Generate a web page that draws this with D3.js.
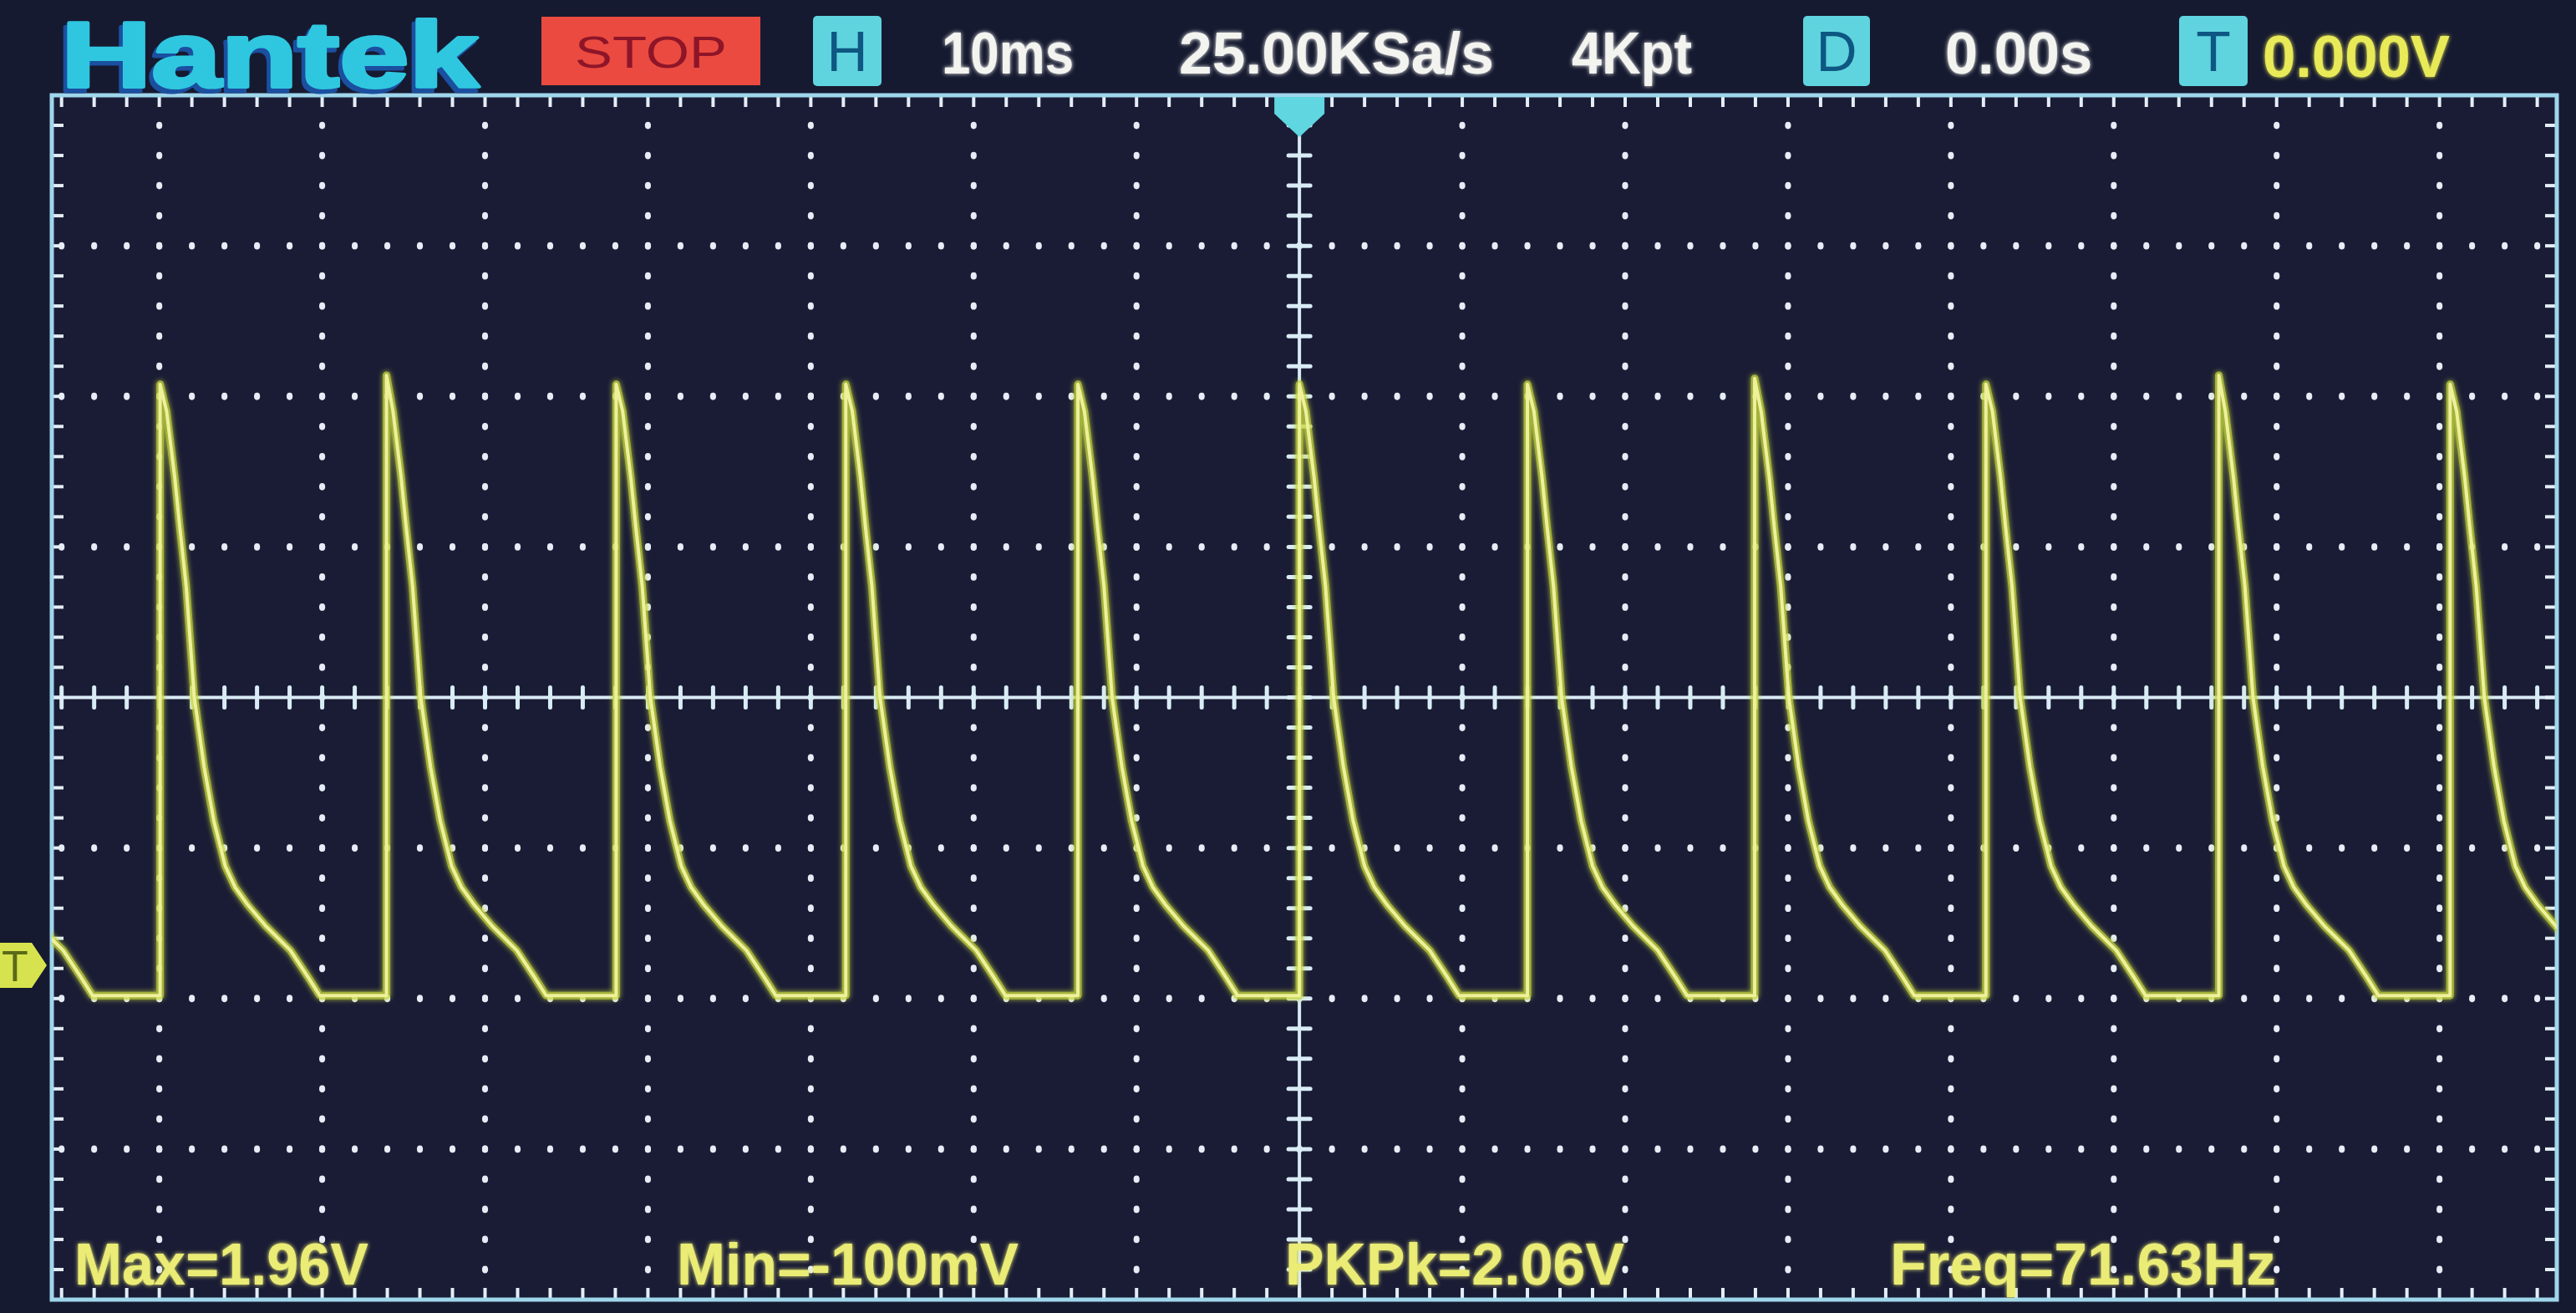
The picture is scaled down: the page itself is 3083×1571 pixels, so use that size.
<!DOCTYPE html>
<html>
<head>
<meta charset="utf-8">
<script src="https://cdn.jsdelivr.net/npm/d3@7"></script>
<style>
  html, body { margin: 0; padding: 0; background: #12152a; overflow: hidden; }
</style>
</head>
<body>
<div id="scope"></div>
<script>
// ---- readouts (text only) ----
var brand = "Hantek";
var runState = "STOP";
var headerLabels = ["10ms", "25.00KSa/s", "4Kpt", "0.00s"];
var triggerLevel = "0.000V";
var boxLetters = ["H", "D", "T"];
var measureLabels = ["Max=1.96V", "Min=-100mV", "PKPk=2.06V", "Freq=71.63Hz"];

// ---- trace values ----
// rising edge times (ms, relative to trigger) and the peak reached on each pulse
var edgeTimes = [-83.9, -69.95, -56.05, -41.95, -27.85, -13.6, 0, 14.0, 27.95, 42.15, 56.45, 70.65];
var peakVolts = [1.93, 1.93, 1.96, 1.93, 1.93, 1.93, 1.93, 1.93, 1.95, 1.93, 1.96, 1.93];
// decay after each edge: time since edge (ms) and volts
var decayTimes = [0.4, 0.9, 1.2, 1.6, 2.1, 2.7, 3.3, 4.0, 4.6, 5.4, 6.5, 8.0, 9.1, 9.8];
var decayVolts = [1.84, 1.62, 1.46, 1.26, 0.89, 0.66, 0.48, 0.33, 0.26, 0.20, 0.13, 0.05, -0.04, -0.10];
var baseVolts = -0.10;

var W = 3083, H = 1571;
var plot = {left: 62, right: 3060, top: 114, bottom: 1555};

var svg = d3.select("#scope").append("svg")
    .attr("width", W)
    .attr("height", H)
    .style("display", "block");

var defs = svg.append("defs");

function glow(id, dev) {
  var f = defs.append("filter").attr("id", id)
      .attr("x", "-20%").attr("y", "-20%").attr("width", "140%").attr("height", "140%");
  f.append("feGaussianBlur").attr("in", "SourceGraphic").attr("stdDeviation", dev).attr("result", "b");
  var m = f.append("feMerge");
  m.append("feMergeNode").attr("in", "b");
  m.append("feMergeNode").attr("in", "SourceGraphic");
}
glow("glowTrace", 3);
glow("glowText", 2.5);

defs.append("clipPath").attr("id", "plotClip")
  .append("rect")
    .attr("x", plot.left)
    .attr("y", plot.top)
    .attr("width", plot.right - plot.left)
    .attr("height", plot.bottom - plot.top);

// screen background
svg.append("rect")
    .attr("width", W).attr("height", H)
    .attr("fill", "#161a30");

svg.append("rect")
    .attr("x", plot.left).attr("y", plot.top)
    .attr("width", plot.right - plot.left)
    .attr("height", plot.bottom - plot.top)
    .attr("fill", "#1a1c35");

// time in ms across, volts up (500mV/div, 0V sits ~1.78 div under centre)
var x = d3.scaleLinear()
    .domain([-76.6, 77.2])
    .range([plot.left, plot.right]);

var y = d3.scaleLinear()
    .domain([-1.11, 2.89])
    .range([plot.bottom, plot.top]);

// vertical divisions, for the graticule
var div = d3.scaleLinear()
    .domain([-4, 4])
    .range([plot.bottom, plot.top]);

var majorT = x.ticks(15).filter(function(t) { return t !== 0; });
var minorT = d3.range(-76, 77.3, 2);
var majorD = [-3, -2, -1, 1, 2, 3];
var minorD = d3.range(-19, 20).map(function(k) { return k / 5; });

var grid = svg.append("g").attr("class", "graticule");
var gridColor = "#e6edf6";

// dotted verticals
majorT.forEach(function(t) {
  grid.selectAll(null)
    .data(minorD)
    .enter()
    .append("ellipse")
      .attr("cx", x(t))
      .attr("cy", function(d) { return div(d); })
      .attr("rx", 3.6).attr("ry", 4.4)
      .attr("fill", gridColor);
});

// dotted horizontals
majorD.forEach(function(d) {
  grid.selectAll(null)
    .data(minorT)
    .enter()
    .append("ellipse")
      .attr("cx", function(t) { return x(t); })
      .attr("cy", div(d))
      .attr("rx", 3.6).attr("ry", 4.4)
      .attr("fill", gridColor);
});

// centre cross with small bars
var axisColor = "#d9ecf6";
grid.append("line")
    .attr("x1", x(0)).attr("x2", x(0))
    .attr("y1", plot.top).attr("y2", plot.bottom)
    .attr("stroke", axisColor).attr("stroke-width", 4);
grid.append("line")
    .attr("x1", plot.left).attr("x2", plot.right)
    .attr("y1", div(0)).attr("y2", div(0))
    .attr("stroke", axisColor).attr("stroke-width", 4);

grid.selectAll(null)
  .data(minorD)
  .enter()
  .append("line")
    .attr("x1", x(0) - 13).attr("x2", x(0) + 13)
    .attr("y1", function(d) { return div(d); })
    .attr("y2", function(d) { return div(d); })
    .attr("stroke", axisColor).attr("stroke-width", 5)
    .attr("stroke-linecap", "round");

grid.selectAll(null)
  .data(minorT)
  .enter()
  .append("line")
    .attr("x1", function(t) { return x(t); })
    .attr("x2", function(t) { return x(t); })
    .attr("y1", div(0) - 12).attr("y2", div(0) + 12)
    .attr("stroke", axisColor).attr("stroke-width", 5)
    .attr("stroke-linecap", "round");

// border ticks
var tickLen = 14;
var borderColor = "#9fd6ec";
var tickColor = "#e3eef7";
grid.selectAll(null)
  .data(minorT)
  .enter()
  .append("line")
    .attr("x1", function(t) { return x(t); })
    .attr("x2", function(t) { return x(t); })
    .attr("y1", plot.top).attr("y2", plot.top + tickLen)
    .attr("stroke", tickColor).attr("stroke-width", 4);
grid.selectAll(null)
  .data(minorT)
  .enter()
  .append("line")
    .attr("x1", function(t) { return x(t); })
    .attr("x2", function(t) { return x(t); })
    .attr("y1", plot.bottom - tickLen).attr("y2", plot.bottom)
    .attr("stroke", tickColor).attr("stroke-width", 4);
grid.selectAll(null)
  .data(minorD)
  .enter()
  .append("line")
    .attr("x1", plot.left).attr("x2", plot.left + tickLen)
    .attr("y1", function(d) { return div(d); })
    .attr("y2", function(d) { return div(d); })
    .attr("stroke", tickColor).attr("stroke-width", 4);
grid.selectAll(null)
  .data(minorD)
  .enter()
  .append("line")
    .attr("x1", plot.right - tickLen).attr("x2", plot.right)
    .attr("y1", function(d) { return div(d); })
    .attr("y2", function(d) { return div(d); })
    .attr("stroke", tickColor).attr("stroke-width", 4);

grid.append("rect")
    .attr("x", plot.left).attr("y", plot.top)
    .attr("width", plot.right - plot.left)
    .attr("height", plot.bottom - plot.top)
    .attr("fill", "none")
    .attr("stroke", borderColor)
    .attr("stroke-width", 5);

// ---- the trace ----
var tracePts = [];
edgeTimes.forEach(function(t0, i) {
  tracePts.push([t0, baseVolts]);
  tracePts.push([t0, peakVolts[i]]);
  decayTimes.forEach(function(dt, j) {
    tracePts.push([t0 + dt, decayVolts[j]]);
  });
});

var line = d3.line()
    .x(function(d) { return x(d[0]); })
    .y(function(d) { return y(d[1]); });

var traceG = svg.append("g").attr("clip-path", "url(#plotClip)");
traceG.append("path")
    .datum(tracePts)
    .attr("d", line)
    .attr("fill", "none")
    .attr("stroke", "#c6d83e")
    .attr("stroke-width", 9)
    .attr("stroke-linejoin", "round")
    .attr("opacity", 0.8)
    .attr("filter", "url(#glowTrace)");
traceG.append("path")
    .datum(tracePts)
    .attr("d", line)
    .attr("fill", "none")
    .attr("stroke", "#eef09a")
    .attr("stroke-width", 4)
    .attr("stroke-linejoin", "round");

// trigger position marker (top) and trigger level marker (left)
var tx = x(0);
svg.append("path")
    .attr("d", "M" + (tx - 30) + "," + (plot.top + 2) + "H" + (tx + 30) + "V" + (plot.top + 22) +
               "L" + tx + "," + (plot.top + 50) + "L" + (tx - 30) + "," + (plot.top + 22) + "Z")
    .attr("fill", "#5fd6e0");

var ty = y(0);
svg.append("path")
    .attr("d", "M0," + (ty - 27) + "H38L56," + ty + "L38," + (ty + 27) + "H0Z")
    .attr("fill", "#d6e34e");
svg.append("text")
    .attr("x", 18).attr("y", ty + 19)
    .attr("text-anchor", "middle")
    .style("font-family", "Liberation Sans, Arial, sans-serif")
    .style("font-size", "52px")
    .attr("fill", "#5a6a18")
    .text(boxLetters[2]);

// ---- header ----
var head = svg.append("g");
head.append("text")
    .attr("x", 69).attr("y", 109)
    .attr("textLength", 500).attr("lengthAdjust", "spacingAndGlyphs")
    .style("font-family", "Liberation Sans, Arial, sans-serif")
    .style("font-weight", "bold")
    .style("font-size", "112px")
    .attr("fill", "#1b4fa0")
    .attr("stroke", "#1b4fa0")
    .attr("stroke-width", 5)
    .attr("stroke-linejoin", "round")
    .text(brand);
head.append("text")
    .attr("x", 73).attr("y", 104)
    .attr("textLength", 500).attr("lengthAdjust", "spacingAndGlyphs")
    .style("font-family", "Liberation Sans, Arial, sans-serif")
    .style("font-weight", "bold")
    .style("font-size", "112px")
    .attr("fill", "#2fc7e0")
    .attr("stroke", "#2fc7e0")
    .attr("stroke-width", 4)
    .attr("stroke-linejoin", "round")
    .text(brand);

head.append("rect")
    .attr("x", 648).attr("y", 20).attr("width", 262).attr("height", 82)
    .attr("fill", "#ea4a40");
head.append("text")
    .attr("x", 779).attr("y", 81)
    .attr("text-anchor", "middle")
    .attr("textLength", 182).attr("lengthAdjust", "spacingAndGlyphs")
    .style("font-family", "Liberation Sans, Arial, sans-serif")
    .style("font-size", "54px")
    .attr("fill", "#8e1528")
    .text(runState);

var boxes = [{x: 973, w: 82}, {x: 2158, w: 80}, {x: 2608, w: 82}];
boxes.forEach(function(b, i) {
  head.append("rect")
      .attr("x", b.x).attr("y", 19).attr("width", b.w).attr("height", 84)
      .attr("rx", 5)
      .attr("fill", "#5fd4df");
  head.append("text")
      .attr("x", b.x + b.w / 2).attr("y", 85)
      .attr("text-anchor", "middle")
      .style("font-family", "Liberation Sans, Arial, sans-serif")
      .style("font-size", "68px")
      .attr("fill", "#0e5782")
      .text(boxLetters[i]);
});

var headSlots = [{x: 1127, w: 158}, {x: 1411, w: 377}, {x: 1881, w: 144}, {x: 2328, w: 176}];
headerLabels.forEach(function(s, i) {
  head.append("text")
      .attr("x", headSlots[i].x).attr("y", 88)
      .attr("textLength", headSlots[i].w).attr("lengthAdjust", "spacingAndGlyphs")
      .style("font-family", "Liberation Sans, Arial, sans-serif")
      .style("font-weight", "bold")
      .style("font-size", "70px")
      .attr("fill", "#f3f3f0")
      .attr("filter", "url(#glowText)")
      .text(s);
});
head.append("text")
    .attr("x", 2708).attr("y", 92)
    .attr("textLength", 224).attr("lengthAdjust", "spacingAndGlyphs")
    .style("font-family", "Liberation Sans, Arial, sans-serif")
    .style("font-weight", "bold")
    .style("font-size", "70px")
    .attr("fill", "#e9ea58")
    .attr("filter", "url(#glowText)")
    .text(triggerLevel);

// ---- measurements along the bottom ----
var measSlots = [{x: 89, w: 352}, {x: 810, w: 409}, {x: 1538, w: 406}, {x: 2262, w: 462}];
measureLabels.forEach(function(s, i) {
  svg.append("text")
      .attr("x", measSlots[i].x).attr("y", 1537)
      .attr("textLength", measSlots[i].w).attr("lengthAdjust", "spacingAndGlyphs")
      .style("font-family", "Liberation Sans, Arial, sans-serif")
      .style("font-weight", "bold")
      .style("font-size", "70px")
      .attr("fill", "#eaec74")
      .attr("filter", "url(#glowText)")
      .text(s);
});
</script>
</body>
</html>
